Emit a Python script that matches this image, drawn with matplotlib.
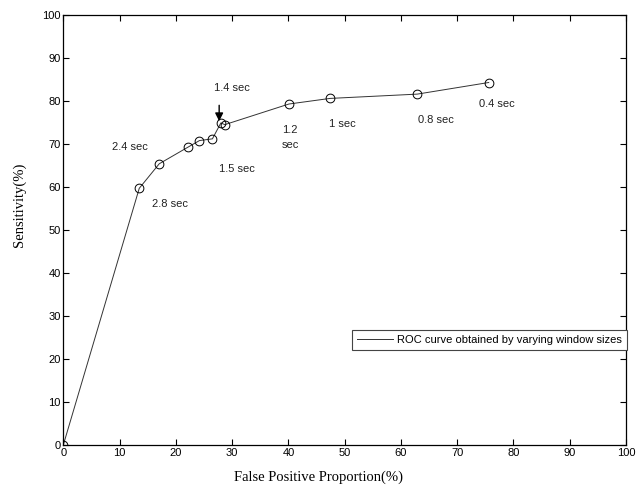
import matplotlib
matplotlib.use('Agg')
import matplotlib.pyplot as plt
from matplotlib.lines import Line2D

# ROC points (false positive %, sensitivity %)
fpr = [0, 13.5, 17.05, 22.2, 24.2, 26.5, 28.0, 28.7, 40.1, 47.4, 62.9, 75.6]
sens = [0, 59.7, 65.4, 69.3, 70.8, 71.2, 74.9, 74.5, 79.3, 80.6, 81.6, 84.3]

# window-size labels and where they sit
win_labels = ['1.4 sec', '2.4 sec', '1.5 sec', '2.8 sec', '1.2\nsec',
              '1 sec', '0.8 sec', '0.4 sec']
label_x = [26.8, 8.6, 27.7, 15.7, 38.9, 47.3, 63.0, 73.9]
label_y = [83.1, 69.2, 64.3, 56.1, 71.5, 74.6, 75.5, 79.3]

ticks = list(range(0, 101, 10))

plt.rcParams['font.family'] = ['Liberation Sans', 'DejaVu Sans']

fig = plt.figure(figsize=(6.43, 4.91), dpi=100)
ax = fig.add_axes([63.3/643, 46/491, (626-63.3)/643, (445-15)/491])

ax.plot(fpr, sens, color='#333333', linewidth=0.7,
        label='ROC curve obtained by varying window sizes')
ax.plot(fpr, sens, linestyle='none', marker='o', markersize=6.3,
        markerfacecolor='none', markeredgecolor='black', markeredgewidth=0.7)

for txt, x, y in zip(win_labels, label_x, label_y):
    ax.text(x, y, txt, fontsize=8, ha='left', va='center', color='#222222',
            linespacing=1.6)

# arrow pointing at the 1.4 sec point
ax.annotate('', xy=(fpr[6] - 0.3, sens[6] + 0.4), xytext=(fpr[6] - 0.3, 79.0),
            arrowprops=dict(arrowstyle='-|>', color='black', lw=1.0,
                            mutation_scale=12, shrinkA=0, shrinkB=0))

ax.set_xlim(0, 100)
ax.set_ylim(0, 100)
ax.set_xticks(ticks)
ax.set_yticks(ticks)
ax.tick_params(direction='in', length=4, width=0.8, labelsize=8,
               top=True, right=True, pad=2)
for s in ax.spines.values():
    s.set_linewidth(0.9)

ax.set_xlabel('False Positive Proportion(%)', family='Liberation Serif',
              fontsize=10.5)
ax.set_ylabel('Sensitivity(%)', family='Liberation Serif', fontsize=10.5)
ax.xaxis.set_label_coords(0.453, -0.06)
ax.yaxis.set_label_coords(-0.066, 0.558)

handle = Line2D([], [], color='#333333', linewidth=0.7)
leg = ax.legend([handle], ['ROC curve obtained by varying window sizes'],
                loc='lower left', bbox_to_anchor=((352-63.3)/562.7, (445-350)/430),
                fontsize=8, fancybox=False, framealpha=1, edgecolor='#444444',
                handlelength=3.2, handletextpad=0.4, borderpad=0.45,
                borderaxespad=0)
leg.get_frame().set_linewidth(0.8)

fig.savefig('out.png', dpi=100)
